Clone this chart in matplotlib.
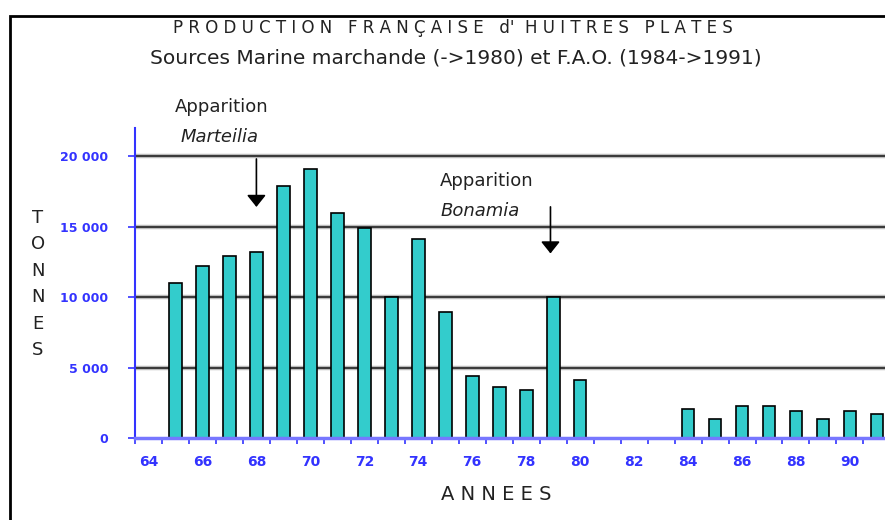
import matplotlib.pyplot as plt
from matplotlib.patches import Rectangle

# Production (tonnes) per year
years = [1965, 1966, 1967, 1968, 1969, 1970, 1971, 1972, 1973, 1974, 1975,
         1976, 1977, 1978, 1979, 1980,
         1984, 1985, 1986, 1987, 1988, 1989, 1990, 1991]
tonnes = [11000, 12200, 12900, 13200, 17900, 19100, 16000, 14900, 10000, 14100, 8950,
          4400, 3600, 3400, 10000, 4100,
          2050, 1350, 2300, 2300, 1900, 1350, 1900, 1700]

xtick_years = [1964, 1966, 1968, 1970, 1972, 1974, 1976, 1978, 1980,
               1982, 1984, 1986, 1988, 1990]
xtick_labels = ['64', '66', '68', '70', '72', '74', '76', '78', '80',
                '82', '84', '86', '88', '90']
yticks = [0, 5000, 10000, 15000, 20000]
ytick_labels = ['0', '5 000', '10 000', '15 000', '20 000']

blue = '#3333ff'

fig = plt.figure(figsize=(8.85, 5.2), dpi=100)
ax = fig.add_axes([135 / 885, 1 - 438 / 520, 750 / 885, 310 / 520])

for y in yticks[1:]:
    ax.axhline(y, color='#bbbbbb', lw=3.2, zorder=0)
    ax.axhline(y, color='#222222', lw=1.2, zorder=0)

ax.bar(years, tonnes, width=0.47, color='#33cccc', edgecolor='black', lw=1.2, zorder=2)

ax.set_xlim(1963.5, 1991.3)
ax.set_ylim(0, 22000)
ax.set_xticks(xtick_years)
ax.set_xticklabels(xtick_labels, color=blue, fontsize=10, fontweight='bold')
ax.set_xticks([y + 0.5 for y in range(1963, 1991)], minor=True)
ax.tick_params(axis='x', which='major', length=0, pad=12)
ax.tick_params(axis='x', which='minor', length=4, color=blue, width=1.2)
ax.set_yticks(yticks)
ax.set_yticklabels(ytick_labels, color=blue, fontsize=9, fontweight='bold')
ax.tick_params(axis='y', length=5, color=blue, width=1.2, pad=14, direction='out')

for s in ['top', 'right']:
    ax.spines[s].set_visible(False)
ax.spines['left'].set_color(blue)
ax.spines['left'].set_linewidth(1.5)
ax.spines['bottom'].set_color('#7777ff')
ax.spines['bottom'].set_linewidth(2.5)

# annotations
arrow = dict(arrowstyle='-|>,head_width=0.32,head_length=0.4', color='black',
             lw=1.2, mutation_scale=18)
ax.annotate('', xy=(1968, 16200), xytext=(1968, 20000), arrowprops=arrow)
ax.annotate('', xy=(1978.9, 12900), xytext=(1978.9, 16600), arrowprops=arrow)

fig.text(222 / 885, 1 - 107 / 520, 'Apparition', ha='center', va='center', fontsize=13,
         color='#222222')
fig.text(220 / 885, 1 - 137 / 520, 'Marteilia', ha='center', va='center', fontsize=13,
         style='italic', color='#222222')
fig.text(487 / 885, 1 - 181 / 520, 'Apparition', ha='center', va='center', fontsize=13,
         color='#222222')
fig.text(480 / 885, 1 - 211 / 520, 'Bonamia', ha='center', va='center', fontsize=13,
         style='italic', color='#222222')

fig.text(453 / 885, 1 - 28 / 520, 'P R O D U C T I O N   F R A N Ç A I S E   d\'  H U I T R E S   P L A T E S',
         ha='center', va='center', fontsize=12, color='#222222')
fig.text(456 / 885, 1 - 58 / 520, 'Sources Marine marchande (->1980) et F.A.O. (1984->1991)',
         ha='center', va='center', fontsize=14.5, color='#222222')

fig.text(38 / 885, 1 - 284 / 520, 'T\nO\nN\nN\nE\nS', ha='center', va='center',
         fontsize=13, linespacing=1.6, color='#222222')
fig.text(496 / 885, 1 - 495 / 520, 'A N N E E S', ha='center', va='center', fontsize=14, color='#222222')

# outer frame
fig.patches.append(Rectangle((10 / 885, -0.1), 1.0, 1.1 - 16 / 520, transform=fig.transFigure,
                             fill=False, edgecolor='black', lw=2))

fig.savefig('out.png', dpi=100)
